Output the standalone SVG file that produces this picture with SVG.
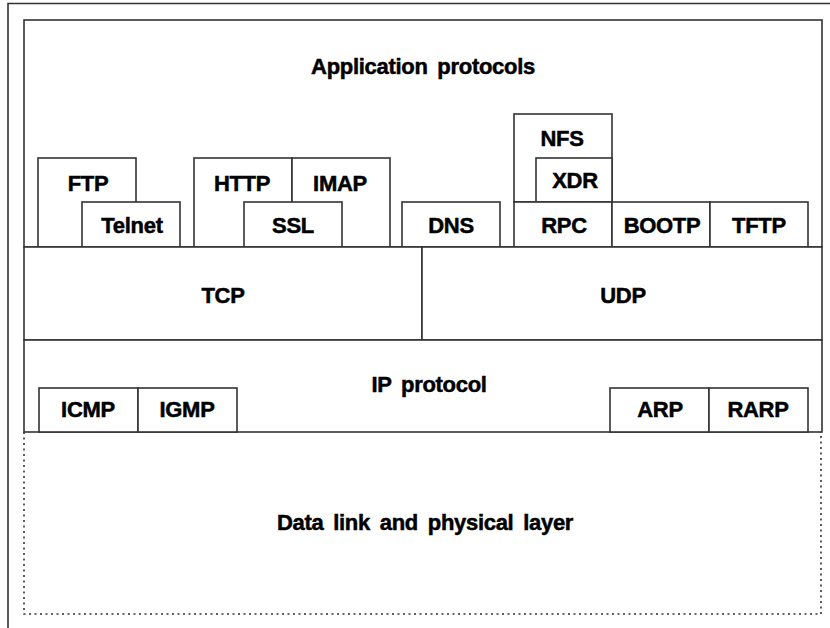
<svg xmlns="http://www.w3.org/2000/svg" width="830" height="628" viewBox="0 0 830 628">
<style>
  .b { fill: #ffffff; stroke: #333333; stroke-width: 1.6; }
  .ln { fill: none; stroke: #333333; stroke-width: 1.6; }
  .dot { fill: none; stroke: #333333; stroke-width: 1.6; stroke-dasharray: 2 3.5; }
  text { font-family: "Liberation Sans", Arial, sans-serif; font-weight: bold; font-size: 22px; fill: #000000; stroke: #000000; stroke-width: 0.5; text-anchor: middle; letter-spacing: -0.3px; word-spacing: 4px; }
</style>
<rect width="830" height="628" fill="#ffffff"/>
<g id="frame">
  <path class="ln" d="M8,628 V3.5 H830"/>
</g>
<g id="application">
  <rect class="b" x="24" y="20" width="798" height="227"/>
  <text x="423" y="74">Application protocols</text>
</g>
<g id="ftp">
  <rect class="b" x="38" y="158" width="98" height="89"/>
  <text x="88" y="191">FTP</text>
</g>
<g id="telnet">
  <rect class="b" x="82" y="202" width="98" height="45"/>
  <text x="132" y="233">Telnet</text>
</g>
<g id="http">
  <rect class="b" x="194" y="158" width="98" height="89"/>
  <text x="242" y="191">HTTP</text>
</g>
<g id="imap">
  <rect class="b" x="292" y="158" width="98" height="89"/>
  <text x="340" y="191">IMAP</text>
</g>
<g id="ssl">
  <rect class="b" x="244" y="202" width="98" height="45"/>
  <text x="293" y="233">SSL</text>
</g>
<g id="dns">
  <rect class="b" x="402" y="202" width="98" height="45"/>
  <text x="451" y="233">DNS</text>
</g>
<g id="nfs">
  <rect class="b" x="514" y="114" width="98" height="88"/>
  <text x="562" y="146">NFS</text>
</g>
<g id="xdr">
  <rect class="b" x="536" y="158" width="76" height="44"/>
  <text x="575" y="188">XDR</text>
</g>
<g id="rpc">
  <rect class="b" x="514" y="202" width="98" height="45"/>
  <text x="564" y="233">RPC</text>
</g>
<g id="bootp">
  <rect class="b" x="612" y="202" width="98" height="45"/>
  <text x="662" y="233">BOOTP</text>
</g>
<g id="tftp">
  <rect class="b" x="710" y="202" width="98" height="45"/>
  <text x="759" y="233">TFTP</text>
</g>
<g id="tcp">
  <rect class="b" x="24" y="247" width="398" height="93"/>
  <text x="223" y="303">TCP</text>
</g>
<g id="udp">
  <rect class="b" x="422" y="247" width="400" height="93"/>
  <text x="623" y="303">UDP</text>
</g>
<g id="ip">
  <rect class="b" x="24" y="340" width="798" height="92"/>
  <text x="429" y="392">IP protocol</text>
</g>
<g id="icmp">
  <rect class="b" x="39" y="388" width="99" height="44"/>
  <text x="88" y="417">ICMP</text>
</g>
<g id="igmp">
  <rect class="b" x="138" y="388" width="99" height="44"/>
  <text x="187" y="417">IGMP</text>
</g>
<g id="arp">
  <rect class="b" x="610" y="388" width="99" height="44"/>
  <text x="660" y="417">ARP</text>
</g>
<g id="rarp">
  <rect class="b" x="709" y="388" width="99" height="44"/>
  <text x="758" y="417">RARP</text>
</g>
<g id="datalink">
  <path class="dot" d="M24,432 V614 H821 V432"/>
  <text x="425" y="530">Data link and physical layer</text>
</g>
<g id="connectors"></g>
</svg>
